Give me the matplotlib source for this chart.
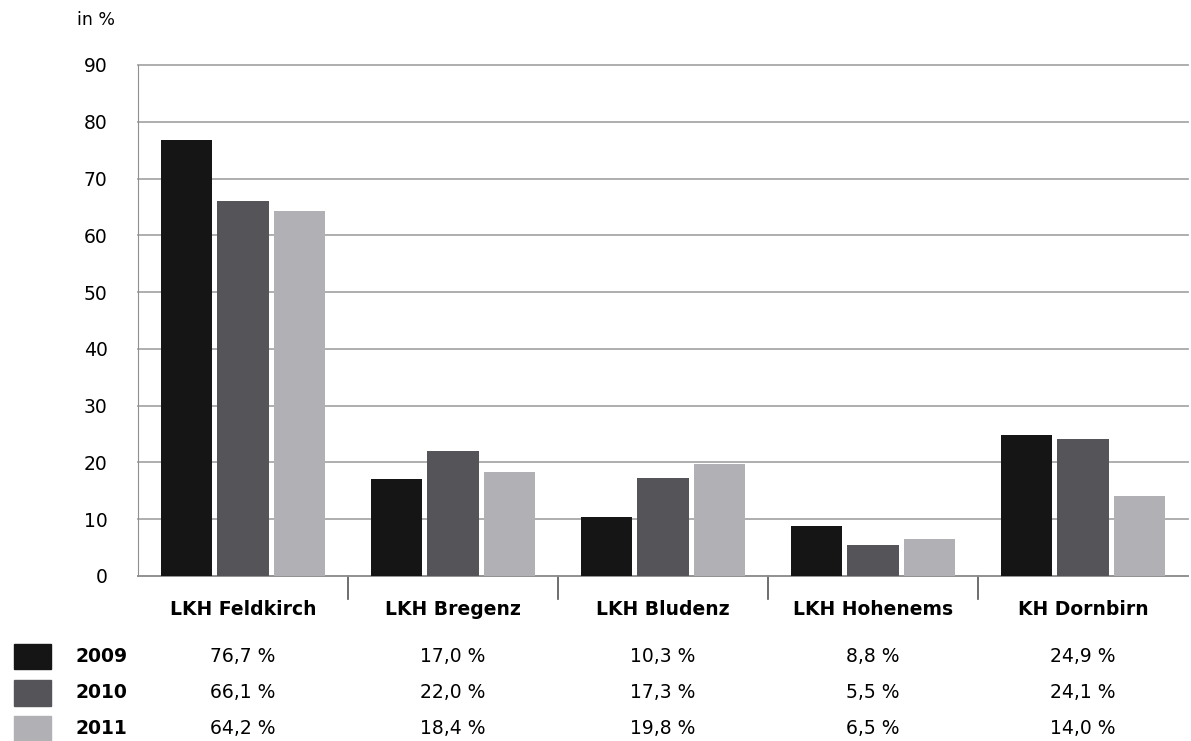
import numpy as np
import matplotlib.pyplot as plt
from matplotlib.patches import Rectangle

# data
categories = ['LKH Feldkirch', 'LKH Bregenz', 'LKH Bludenz', 'LKH Hohenems', 'KH Dornbirn']
years = ['2009', '2010', '2011']
v2009 = [76.7, 17.0, 10.3, 8.8, 24.9]
v2010 = [66.1, 22.0, 17.3, 5.5, 24.1]
v2011 = [64.2, 18.4, 19.8, 6.5, 14.0]
series = [v2009, v2010, v2011]
colors = ['#151515', '#555559', '#b1b1b5']

plt.rcParams['font.family'] = ['DejaVu Sans']

fig = plt.figure(figsize=(11.91, 7.41), dpi=100)
ax = fig.add_axes([0.1159, 0.2227, 0.8816, 0.6896])

x = np.arange(len(categories))
offsets = [-0.27, 0.0, 0.27]
for vals, off, c in zip(series, offsets, colors):
    ax.bar(x + off, vals, width=0.245, color=c, zorder=3)

ax.set_xlim(-0.5, 4.5)
ax.set_ylim(0, 90)
ax.set_yticks(range(0, 91, 10))
ax.yaxis.grid(True, color='#a8a8a8', linewidth=1.3, zorder=0)
for gl in ax.get_ygridlines():
    gl.set_clip_on(False)
ax.set_xticks([])
ax.tick_params(axis='y', length=0, pad=22, labelsize=13.5)
for s in ['top', 'right']:
    ax.spines[s].set_visible(False)
ax.spines['left'].set_color('#909090')
ax.spines['bottom'].set_color('#909090')
ax.spines['bottom'].set_linewidth(1.3)

# group separators below axis
for b in [0.5, 1.5, 2.5, 3.5]:
    ax.plot([b, b], [0, -0.045], color='#555555', linewidth=1.2,
            transform=ax.get_xaxis_transform(), clip_on=False)

fig.text(0.065, 0.973, 'in %', fontsize=12.5, va='center', ha='left')

# table below the chart
trans = ax.get_xaxis_transform()
for xi, cat in zip(x, categories):
    ax.text(xi, -0.066, cat, transform=trans, ha='center', va='center',
            fontsize=13.5, fontweight='bold')

row_y = [-0.158, -0.229, -0.299]
for vals, ry, yr, c in zip(series, row_y, years, colors):
    for xi, v in zip(x, vals):
        ax.text(xi, ry, f'{v:.1f} %'.replace('.', ','), transform=trans,
                ha='center', va='center', fontsize=13.5)
    fy = ax.get_position().y0 + ry * ax.get_position().height
    fig.text(0.063, fy, yr, fontsize=13.5, fontweight='bold', va='center', ha='left')
    fig.patches.append(Rectangle((0.012, fy - 0.017), 0.031, 0.034, color=c,
                                 transform=fig.transFigure, figure=fig))

fig.savefig('out.png', dpi=100)
